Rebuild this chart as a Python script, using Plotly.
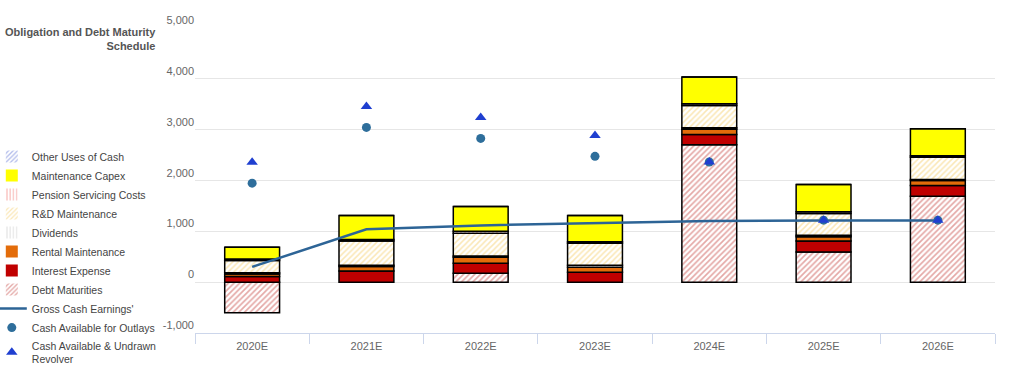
import plotly.graph_objects as go

categories = ["2020E", "2021E", "2022E", "2023E", "2024E", "2025E", "2026E"]

debt_maturities = [-600, 0, 176, 0, 2705, 594, 1691]
interest_expense = [110, 221, 196, 196, 202, 216, 210]
rental_maintenance = [50, 85, 118, 98, 103, 84, 99]
dividends = [25, 25, 25, 39, 28, 27, 19]
rd_maintenance = [240, 480, 445, 431, 437, 431, 437]
pension_costs = [30, 30, 40, 32, 33, 32, 33]
maintenance_capex = [230, 470, 490, 517, 530, 537, 529]
other_uses = [0, 0, 0, 0, 0, 0, 0]

gross_cash_earnings = [300, 1040, 1117, 1156, 1205, 1212, 1212]
cash_available = [1948, 3044, 2828, 2475, 2365, 1220, 1220]
cash_and_revolver = [2358, 3456, 3240, 2887, 2365, 1220, 1220]

y_tick_vals = [-1000, 0, 1000, 2000, 3000, 4000, 5000]
y_tick_text = ["-1,000", "0", "1,000", "2,000", "3,000", "4,000", "5,000"]

FONT = "Liberation Sans, Arial, sans-serif"

fig = go.Figure()

bar_specs = [
    ("Debt Maturities", debt_maturities, dict(color="white", pattern=dict(shape="/", fgcolor="#c9514d", bgcolor="white", size=4, solidity=0.42)), 8),
    ("Interest Expense", interest_expense, dict(color="#c00000"), 7),
    ("Rental Maintenance", rental_maintenance, dict(color="#e36c0a"), 6),
    ("Dividends", dividends, dict(color="white", pattern=dict(shape="|", fgcolor="#d0d0d0", bgcolor="white", size=4, solidity=0.4)), 5),
    ("R&D Maintenance", rd_maintenance, dict(color="white", pattern=dict(shape="/", fgcolor="#f6cf6e", bgcolor="white", size=4, solidity=0.38)), 4),
    ("Pension Servicing Costs", pension_costs, dict(color="white", pattern=dict(shape="|", fgcolor="#f4928d", bgcolor="white", size=4, solidity=0.45)), 3),
    ("Maintenance Capex", maintenance_capex, dict(color="#ffff00"), 2),
    ("Other Uses of Cash", other_uses, dict(color="white", pattern=dict(shape="/", fgcolor="#6477d6", bgcolor="white", size=4, solidity=0.4)), 1),
]

for name, vals, marker, rank in bar_specs:
    m = dict(marker)
    m["line"] = dict(color="black", width=1.5)
    fig.add_trace(go.Bar(
        x=categories, y=vals, name=name, marker=m, showlegend=False,
    ))
    # legend-only entry (no outline on legend swatch)
    lm = dict(marker)
    lm["line"] = dict(width=0)
    fig.add_trace(go.Bar(
        x=[None], y=[None], name=name, marker=lm, legendrank=rank, showlegend=True,
    ))

fig.add_trace(go.Scatter(
    x=categories, y=gross_cash_earnings, name="Gross Cash Earnings'",
    mode="lines", line=dict(color="#2d6496", width=2.5), legendrank=9,
))
fig.add_trace(go.Scatter(
    x=categories, y=cash_available, name="Cash Available for Outlays",
    mode="markers", marker=dict(symbol="circle", size=9, color="#2e6e9b"), legendrank=10,
))
fig.add_trace(go.Scatter(
    x=categories, y=cash_and_revolver, name="Cash Available & Undrawn<br>Revolver",
    mode="markers", marker=dict(symbol="triangle-up", size=10, color="#1f3fd0"), legendrank=11,
))

fig.update_layout(
    width=1011, height=380,
    margin=dict(l=195, r=16, t=28, b=47, autoexpand=False),
    barmode="relative",
    bargap=0.52,
    plot_bgcolor="white",
    paper_bgcolor="white",
    font=dict(family=FONT, size=11, color="#666666"),
    legend=dict(
        x=-0.254, xanchor="left", y=0.626, yanchor="top",
        font=dict(family=FONT, size=10.5, color="#444444"),
        traceorder="normal", bgcolor="rgba(0,0,0,0)",
        itemwidth=30,
    ),
    annotations=[dict(
        text="<b>Obligation and Debt Maturity<br>Schedule</b>",
        xref="paper", yref="paper", x=-0.046, y=1.013, xanchor="right", yanchor="top",
        align="right", showarrow=False,
        font=dict(family=FONT, size=11, color="#555555"),
    )],
)

fig.update_xaxes(
    showgrid=False, showline=True, linecolor="#ccd6eb", linewidth=1,
    ticks="outside", tickson="boundaries", ticklen=10, tickcolor="#ccd6eb",
    ticklabelstandoff=3,
    tickfont=dict(size=11, color="#666666"),
)
fig.update_yaxes(
    range=[-1000, 5000], tickvals=y_tick_vals, ticktext=y_tick_text,
    showgrid=True, gridcolor="#e6e6e6", gridwidth=1, zeroline=False,
    ticklabelposition="outside top",
    tickfont=dict(size=11, color="#666666"),
)

fig.write_html(
    "out.html",
    config={"displayModeBar": False},
    post_script="document.body.style.margin='0';document.body.style.overflow='hidden';",
)
